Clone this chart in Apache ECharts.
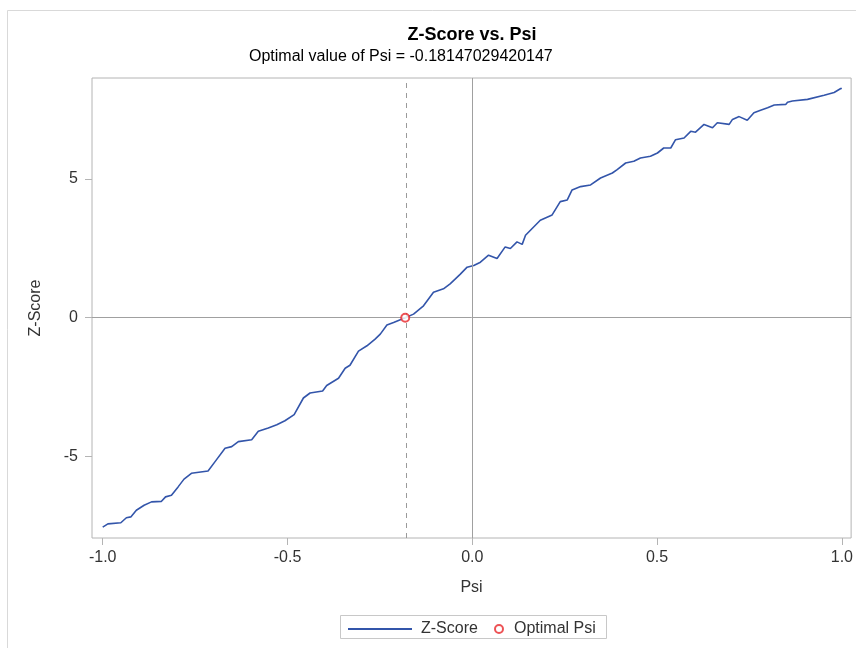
<!DOCTYPE html>
<html>
<head>
<meta charset="utf-8">
<script src="https://cdn.jsdelivr.net/npm/echarts@6/dist/echarts.min.js"></script>
<style>html,body{margin:0;padding:0;background:#fff}#c{width:856px;height:648px}</style>
</head>
<body>
<div id="c"></div>
<script>
const psi = [-1.0,-0.986,-0.951,-0.936,-0.924,-0.909,-0.888,-0.868,-0.841,-0.830,-0.814,-0.796,-0.780,-0.760,-0.715,-0.696,-0.669,-0.651,-0.633,-0.597,-0.579,-0.552,-0.529,-0.507,-0.482,-0.457,-0.439,-0.405,-0.394,-0.362,-0.344,-0.331,-0.308,-0.285,-0.263,-0.249,-0.231,-0.213,-0.1815,-0.159,-0.132,-0.105,-0.078,-0.060,-0.033,-0.014,0.004,0.022,0.044,0.067,0.089,0.103,0.121,0.135,0.144,0.184,0.216,0.238,0.257,0.270,0.293,0.320,0.347,0.379,0.392,0.415,0.437,0.455,0.482,0.501,0.518,0.537,0.550,0.573,0.591,0.604,0.627,0.650,0.663,0.695,0.704,0.722,0.744,0.762,0.780,0.799,0.817,0.848,0.853,0.866,0.907,0.952,0.979,0.997,1.0];
const zscore = [-7.54,-7.42,-7.38,-7.20,-7.17,-6.93,-6.75,-6.63,-6.61,-6.45,-6.39,-6.09,-5.81,-5.60,-5.52,-5.18,-4.70,-4.64,-4.46,-4.39,-4.09,-3.97,-3.85,-3.71,-3.49,-2.89,-2.71,-2.64,-2.44,-2.18,-1.82,-1.71,-1.20,-1.01,-0.77,-0.59,-0.26,-0.17,0.0,0.13,0.43,0.92,1.04,1.22,1.56,1.82,1.88,2.00,2.25,2.13,2.55,2.49,2.73,2.64,2.97,3.51,3.70,4.18,4.24,4.60,4.72,4.78,5.03,5.21,5.33,5.57,5.63,5.75,5.81,5.93,6.11,6.11,6.41,6.47,6.71,6.68,6.96,6.84,7.02,6.96,7.14,7.24,7.11,7.38,7.47,7.56,7.66,7.68,7.76,7.80,7.86,8.01,8.11,8.25,8.25];
const optimalPsi = -0.18147029420147;
const optimalZ = 0;
const xTicks = [-1.0,-0.5,0.0,0.5,1.0];
const yTicks = [-5,0,5];

const FONT = '"Liberation Sans", Arial, sans-serif';
const LINE_COLOR = '#3355aa';
const chart = echarts.init(document.getElementById('c'), null, {renderer:'canvas'});
chart.setOption({
  animation:false,
  backgroundColor:'#fff',
  grid:{left:92,right:4,top:78,bottom:110,show:true,borderColor:'#b4b4b4',borderWidth:1,containLabel:false},
  xAxis:{type:'value',min:-1.029,max:1.025,
    name:'Psi',nameLocation:'middle',nameGap:42,nameTextStyle:{fontFamily:FONT,fontSize:16,color:'#333'},
    axisLine:{show:false,onZero:false},splitLine:{show:false},
    axisTick:{show:true,inside:false,length:7,customValues:xTicks,lineStyle:{color:'#b4b4b4'}},
    axisLabel:{customValues:xTicks,margin:12,fontFamily:FONT,fontSize:16,color:'#333',formatter:v=>Number(v).toFixed(1)}},
  yAxis:{type:'value',min:-7.93,max:8.63,
    name:'Z-Score',nameLocation:'middle',nameGap:48,nameRotate:90,nameTextStyle:{fontFamily:FONT,fontSize:16,color:'#333'},
    axisLine:{show:false,onZero:false},splitLine:{show:false},
    axisTick:{show:true,inside:false,length:7,customValues:yTicks,lineStyle:{color:'#b4b4b4'}},
    axisLabel:{customValues:yTicks,margin:14,fontFamily:FONT,fontSize:16,color:'#333',formatter:v=>String(v)}},
  legend:[
    {data:[{name:'Z-Score',icon:'path://M0,0H64V2H0Z',itemStyle:{color:LINE_COLOR}}],left:348,top:621,padding:0,itemWidth:64,itemHeight:20,
     symbolKeepAspect:true,textStyle:{fontFamily:FONT,fontSize:16,color:'#333',padding:[0,0,0,4]}},
    {data:[{name:'Optimal Psi',icon:'emptyCircle'}],left:494,top:621,padding:0,itemWidth:8,itemHeight:20,
     textStyle:{fontFamily:FONT,fontSize:16,color:'#333',padding:[0,0,0,6]}}
  ],
  graphic:[
    {type:'rect',shape:{x:7.5,y:10.5,width:900,height:700},style:{fill:'none',stroke:'#d9d9d9',lineWidth:1},silent:true},
    {type:'rect',shape:{x:340.5,y:615.5,width:266,height:23},style:{fill:'none',stroke:'#c8c8c8',lineWidth:1},silent:true},
    {type:'text',x:472,y:26,style:{text:'Z-Score vs. Psi',fontFamily:FONT,fontSize:18,fontWeight:'bold',fill:'#000',textAlign:'center',textVerticalAlign:'top'}},
    {type:'text',x:249,y:49,style:{text:'Optimal value of Psi = -0.18147029420147',fontFamily:FONT,fontSize:16,fill:'#000',textAlign:'left',textVerticalAlign:'top'}}
  ],
  series:[
    {name:'Z-Score',type:'line',data:psi.map((x,i)=>[x,zscore[i]]),showSymbol:false,symbol:'none',
     lineStyle:{color:LINE_COLOR,width:1.6},itemStyle:{color:LINE_COLOR},z:3,
     markLine:{silent:true,symbol:'none',label:{show:false},animation:false,
       data:[
         {xAxis:0,lineStyle:{color:'#a0a0a0',type:'solid',width:1}},
         {yAxis:0,lineStyle:{color:'#a0a0a0',type:'solid',width:1}},
         {xAxis:optimalPsi,lineStyle:{color:'#9a9a9a',type:[5,5],width:1}}
       ]}},
    {name:'Optimal Psi',type:'scatter',data:[[optimalPsi,optimalZ]],symbol:'emptyCircle',symbolSize:8,
     itemStyle:{color:'#e8272a',borderColor:'#e8272a',borderWidth:1.5},z:5}
  ]
});
</script>
</body>
</html>
